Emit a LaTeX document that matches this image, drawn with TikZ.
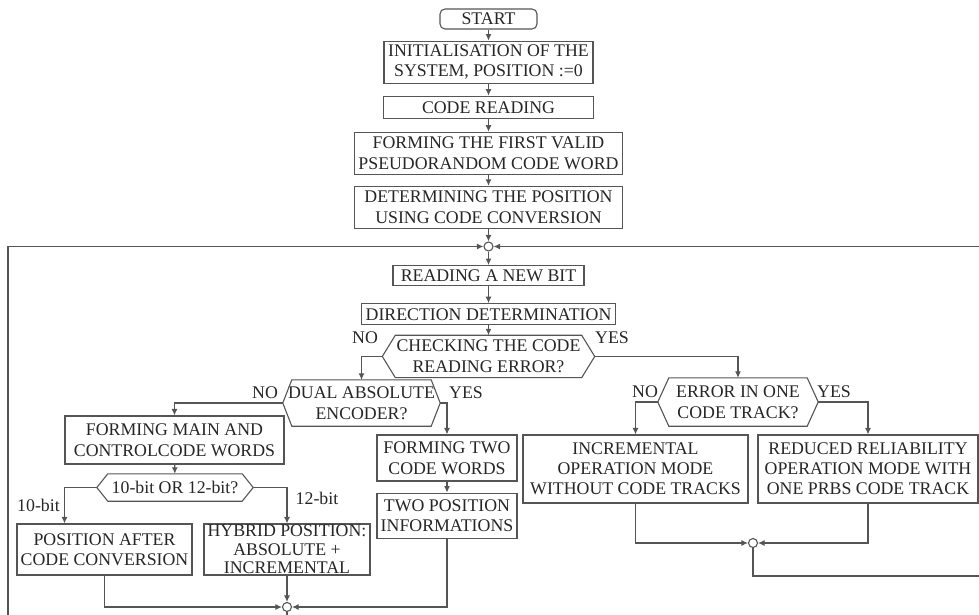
\documentclass[tikz,border=0pt]{standalone}
\usepackage{fontspec}
\setmainfont{Liberation Serif}
\usetikzlibrary{positioning,calc,arrows.meta}
\definecolor{linegray}{HTML}{555555}
\definecolor{textgray}{HTML}{262626}

\tikzset{
  blk/.style={draw=linegray, line width=1.1pt, rectangle, align=center, inner sep=0pt, text=textgray},
  dec/.style={align=center, inner sep=0pt, text=textgray},
  jn/.style={circle, draw=linegray, line width=1.1pt, fill=white, minimum size=9pt, inner sep=0pt},
  lbl/.style={text=textgray, inner sep=0pt},
  flow/.style={draw=linegray, line width=1.1pt},
}
\newcommand{\hexa}[2]{%
  \draw[flow] (#1.west) -- ($(#1.north west)+(#2,0)$) -- ($(#1.north east)+(-#2,0)$)
    -- (#1.east) -- ($(#1.south east)+(-#2,0)$) -- ($(#1.south west)+(#2,0)$) -- cycle;}

\begin{document}
\begin{tikzpicture}[x=1pt, y=-1pt, >={Latex[length=6.5pt,width=6pt]}, font=\fontsize{17.8}{20.5}\selectfont]
  \useasboundingbox (0,0) rectangle (979,615);
  \clip (0,0) rectangle (979,615);

  % main column
  \node [blk, rounded corners=5pt, minimum width=97pt, minimum height=20pt] (start) at (488.5,19) {START};
  \node [blk, below=11pt of start, minimum width=209pt, minimum height=42pt] (init)
      {INITIALISATION OF THE\\SYSTEM, POSITION :=0};
  \node [blk, below=12pt of init, minimum width=210pt, minimum height=22pt] (rd) {CODE READING};
  \node [blk, below=13pt of rd, minimum width=268pt, minimum height=42pt] (frm)
      {FORMING THE FIRST VALID\\PSEUDORANDOM CODE WORD};
  \node [blk, below=11pt of frm, minimum width=268pt, minimum height=42pt] (det)
      {DETERMINING THE POSITION\\USING CODE CONVERSION};
  \node [jn, below=12.5pt of det] (jn1) {};
  \node [blk, below=13.5pt of jn1, minimum width=191pt, minimum height=20pt] (bit) {READING A NEW BIT};
  \node [blk, below=17pt of bit, minimum width=254pt, minimum height=21pt] (dir) {DIRECTION DETERMINATION};
  \node [dec, below=10pt of dir, minimum width=212pt, minimum height=42pt] (chk)
      {CHECKING THE CODE\\READING ERROR?};
  \hexa{chk}{13}

  % left branch
  \node [dec, minimum width=157pt, minimum height=46pt] (dual) at (361.5,403) {DUAL ABSOLUTE\\ENCODER?};
  \hexa{dual}{9}
  \node [blk, minimum width=219pt, minimum height=48pt] (frmmain) at (174.5,440)
      {FORMING MAIN AND\\CONTROLCODE WORDS};
  \node [dec, minimum width=156pt, minimum height=27pt] (bits) at (175,487.5) {10-bit OR 12-bit?};
  \hexa{bits}{11}
  \node [blk, minimum width=175pt, minimum height=51pt] (pos) at (104.5,549.5)
      {POSITION AFTER\\CODE CONVERSION};
  \node [blk, minimum width=166pt, minimum height=51pt, font=\fontsize{17.8}{18.5}\selectfont] (hyb) at (287,549.5)
      {HYBRID POSITION:\\ABSOLUTE +\\INCREMENTAL};
  \node [blk, minimum width=140pt, minimum height=46pt] (frmtwo) at (447,458) {FORMING TWO\\CODE WORDS};
  \node [blk, below=11pt of frmtwo, minimum width=140pt, minimum height=45pt] (twopos)
      {TWO POSITION\\INFORMATIONS};
  \node [jn] (jn2) at (287,607) {};

  % right branch
  \node [dec, minimum width=160pt, minimum height=48pt] (err) at (738,402) {ERROR IN ONE\\CODE TRACK?};
  \hexa{err}{11}
  \node [blk, minimum width=225pt, minimum height=68pt, font=\fontsize{17.8}{20}\selectfont] (incr) at (635.5,469)
      {INCREMENTAL\\OPERATION MODE\\WITHOUT CODE TRACKS};
  \node [blk, minimum width=220pt, minimum height=68pt, font=\fontsize{17.8}{20}\selectfont] (red) at (868,469)
      {REDUCED RELIABILITY\\OPERATION MODE WITH\\ONE PRBS CODE TRACK};
  \node [jn] (jn3) at (753,543) {};

  % branch labels
  \node [lbl] (no1) at (365,338) {NO};
  \node [lbl] (yes1) at (612,338) {YES};
  \node [lbl] (no2) at (265,393) {NO};
  \node [lbl] (yes2) at (466,393) {YES};
  \node [lbl] (no3) at (645,392) {NO};
  \node [lbl] (yes3) at (834,392) {YES};
  \node [lbl] (b10) at (38.5,505) {10-bit};
  \node [lbl] (b12) at (317,498) {12-bit};

  % loop corners
  \coordinate (cL) at (8,625);
  \coordinate (cR) at (990,576);

  \draw [flow, ->] (start) -- (init);
  \draw [flow, ->] (init) -- (rd);
  \draw [flow, ->] (rd) -- (frm);
  \draw [flow, ->] (frm) -- (det);
  \draw [flow, ->] (det) -- (jn1);
  \draw [flow, ->] (jn1) -- (bit);
  \draw [flow, ->] (bit) -- (dir);
  \draw [flow, ->] (dir) -- (chk);
  \draw [flow, ->] (chk.west) -| (dual.north);
  \draw [flow, ->] (chk.east) -| (err.north);
  \draw [flow, ->] (dual.west) -| (frmmain.north);
  \draw [flow, ->] (dual.east) -| (frmtwo.north);
  \draw [flow, ->] (frmmain) -- (bits);
  \draw [flow, ->] (bits.west) -| ([xshift=-40pt]pos.north);
  \draw [flow, ->] (bits.east) -| (hyb.north);
  \draw [flow, ->] (frmtwo) -- (twopos);
  \draw [flow, ->] (pos.south) |- (jn2.west);
  \draw [flow, ->] (hyb.south) -- (jn2.north);
  \draw [flow, ->] (twopos.south) |- (jn2.east);
  \draw [flow, ->] (err.west) -| (incr.north);
  \draw [flow, ->] (err.east) -| (red.north);
  \draw [flow, ->] (incr.south) |- (jn3.west);
  \draw [flow, ->] (red.south) |- (jn3.east);
  \draw [flow, ->] (jn2.south) |- (cL) |- (jn1.west);
  \draw [flow, ->] (jn3.south) |- (cR) |- (jn1.east);
\end{tikzpicture}
\end{document}
